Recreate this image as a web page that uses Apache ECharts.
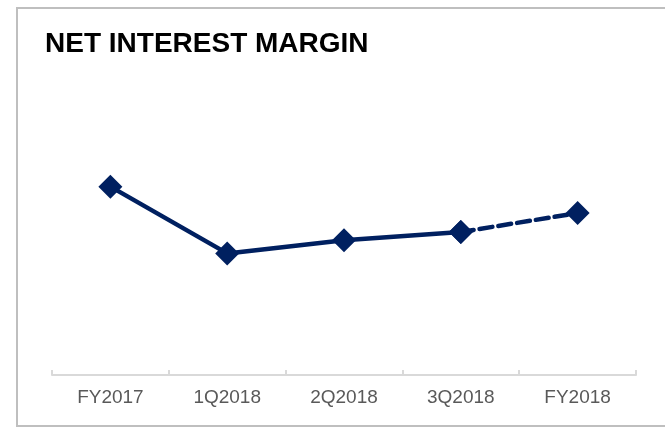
<!DOCTYPE html>
<html>
<head>
<meta charset="utf-8">
<script src="https://cdn.jsdelivr.net/npm/echarts@6/dist/echarts.min.js"></script>
<style>
  html, body { margin: 0; padding: 0; background: #fff; }
  #chart { width: 665px; height: 428px; }
</style>
</head>
<body>
<div id="chart"></div>
<script>
// Net interest margin by period (%)
const periods = ['FY2017', '1Q2018', '2Q2018', '3Q2018', 'FY2018'];
const nimValues = [2.99, 1.93, 2.14, 2.27, 2.57];
// The last period is a full-year outlook, drawn dashed from the latest quarter
const actualCount = 4;

const solidData = nimValues.map((v, i) => (i < actualCount ? v : null));
const dashedData = nimValues.map((v, i) => (i >= actualCount - 1 ? v : null));

const navy = '#002060';
const chart = echarts.init(document.getElementById('chart'), null, { renderer: 'canvas' });

chart.setOption({
  animation: false,
  backgroundColor: '#ffffff',
  textStyle: { fontFamily: 'Liberation Sans, Arial, sans-serif' },
  title: {
    text: 'NET INTEREST MARGIN',
    left: 45,
    top: 30,
    padding: 0,
    textStyle: {
      fontFamily: 'Liberation Sans, Arial, sans-serif',
      fontSize: 28,
      fontWeight: 'bold',
      color: '#000000'
    }
  },
  graphic: [{
    type: 'rect',
    silent: true,
    z: -1,
    shape: { x: 17, y: 8, width: 700, height: 418 },
    style: { fill: 'none', stroke: '#bfbfbf', lineWidth: 2 }
  }],
  grid: { left: 52, right: 29, top: 60, bottom: 53 },
  xAxis: {
    type: 'category',
    data: periods,
    boundaryGap: true,
    axisLine: { lineStyle: { color: '#d9d9d9', width: 2 } },
    axisTick: { show: true, inside: true, length: 5, lineStyle: { color: '#d9d9d9', width: 2 } },
    axisLabel: { color: '#595959', fontSize: 19, margin: 13 }
  },
  yAxis: {
    type: 'value',
    min: 0,
    max: 5,
    show: false,
    splitLine: { show: false }
  },
  series: [
    {
      type: 'line',
      data: solidData,
      symbol: 'diamond',
      symbolSize: 24,
      showAllSymbol: true,
      lineStyle: { color: navy, width: 4.5 },
      itemStyle: { color: navy },
      z: 3
    },
    {
      type: 'line',
      data: dashedData,
      symbol: 'diamond',
      symbolSize: 24,
      lineStyle: { color: navy, width: 4.5, type: [13, 6], cap: 'round' },
      itemStyle: { color: navy },
      z: 2
    }
  ]
});
</script>
</body>
</html>
